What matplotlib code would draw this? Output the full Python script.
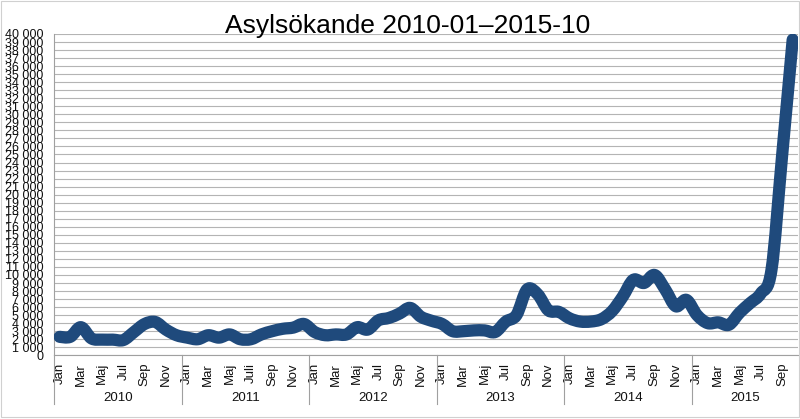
import numpy as np
import matplotlib
matplotlib.use("Agg")
import matplotlib.pyplot as plt
from matplotlib.path import Path
from matplotlib.patches import PathPatch, Rectangle
import matplotlib.transforms as mtransforms

plt.rcParams['font.family'] = ['Liberation Sans', 'DejaVu Sans']

# ---- data ----
title = "Asylsökande 2010-01–2015-10"
years = [2010, 2011, 2012, 2013, 2014, 2015]
months_per_year = [12, 12, 12, 12, 12, 10]
month_labels = ["Jan", "", "Mar", "", "Maj", "", "Jul", "", "Sep", "", "Nov", ""]
month_labels_2011 = ["Jan", "", "Mar", "", "Maj", "", "Juli", "", "Sep", "", "Nov", ""]

values_2010 = [2300, 2300, 3500, 2100, 1950, 1950, 1900, 2900, 3900, 4150, 3200, 2500]
values_2011 = [2200, 2000, 2500, 2200, 2600, 2000, 2000, 2600, 3000, 3300, 3450, 3900]
values_2012 = [2900, 2500, 2600, 2600, 3500, 3200, 4350, 4650, 5200, 5900, 4800, 4300]
values_2013 = [3900, 3000, 3000, 3100, 3100, 2900, 4200, 5000, 8200, 7600, 5600, 5400]
values_2014 = [4600, 4200, 4200, 4500, 5500, 7300, 9400, 9000, 10000, 8200, 6100, 6900]
values_2015 = [5000, 4000, 4100, 3800, 5300, 6500, 7700, 10600, 24800, 39300]

y_ticks = list(range(0, 40001, 1000))

# ---- build ----
values = np.array(values_2010 + values_2011 + values_2012 + values_2013 + values_2014 + values_2015, dtype=float)
tick_labels = []
for yr, n in zip(years, months_per_year):
    labs = month_labels_2011 if yr == 2011 else month_labels
    tick_labels += labs[:n]
x = np.arange(len(values), dtype=float)

W, H = 800, 419
fig = plt.figure(figsize=(W / 100, H / 100), dpi=100)
left, right, bottom, top = 54.3, 798, 355.3, 34
ax = fig.add_axes([left / W, 1 - bottom / H, (right - left) / W, (bottom - top) / H])

ax.set_xlim(-0.5, len(values) - 0.5)
ax.set_ylim(0, 40000)

# gridlines
ax.set_yticks(y_ticks)
ax.set_yticklabels([f"{v:,}".replace(",", " ") for v in y_ticks], fontsize=9, color='#111111')
ax.yaxis.grid(True, color='#b4b4b4', linewidth=0.8)
ax.set_axisbelow(True)
ax.tick_params(axis='y', length=0, pad=8)

ax.set_xticks(x)
ax.set_xticklabels(tick_labels, rotation=90, fontsize=9.5, va='top', ha='center', color='#111111')
ax.tick_params(axis='x', length=0, pad=5.5)

for s in ['top', 'right']:
    ax.spines[s].set_visible(False)
ax.spines['left'].set_color('#a0a0a0')
ax.spines['bottom'].set_color('#a0a0a0')
ax.spines['left'].set_linewidth(0.8)
ax.spines['bottom'].set_linewidth(0.8)

# smooth line (Bezier through the data points)
pts = np.column_stack([x, values])
n = len(pts)
verts = [pts[0]]
codes = [Path.MOVETO]
for i in range(n - 1):
    p0 = pts[i - 1] if i > 0 else pts[i]
    p3 = pts[i + 2] if i + 2 < n else pts[i + 1]
    c1 = pts[i] + (pts[i + 1] - p0) / 6.0
    c2 = pts[i + 1] - (p3 - pts[i]) / 6.0
    verts += [c1, c2, pts[i + 1]]
    codes += [Path.CURVE4] * 3
patch = PathPatch(Path(verts, codes), fill=False, edgecolor='#1f4a7c', linewidth=8.8,
                  capstyle='round', joinstyle='round', zorder=3)
ax.add_patch(patch)

# year group separators and labels
trans = mtransforms.blended_transform_factory(ax.transData, fig.transFigure)
y_axis = 1 - bottom / H
y_sep_end = 1 - 404 / H
start = 0
for yr, nm in zip(years, months_per_year):
    ax.plot([start - 0.5, start - 0.5], [y_axis, y_sep_end], transform=trans,
            color='#a0a0a0', linewidth=0.8, clip_on=False)
    ax.text(start + (nm - 1) / 2.0, 1 - 398 / H, str(yr), transform=trans,
            ha='center', va='center', fontsize=9.5, color='#111111')
    start += nm

# title
fig.text(0.51, 1 - 32.5 / H, title, ha='center', va='baseline', fontsize=19, color='#000000')

# chart border
fig.patches.append(Rectangle((1 / W, 1 - 417 / H), 798 / W, 416 / H, transform=fig.transFigure,
                             fill=False, edgecolor='#d0d0d0', linewidth=0.8))

fig.savefig("out.png", dpi=100)
